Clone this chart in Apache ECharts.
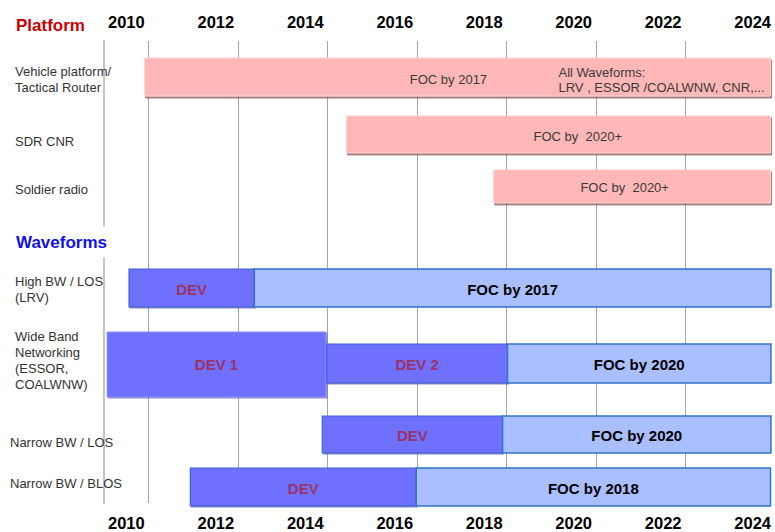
<!DOCTYPE html>
<html>
<head>
<meta charset="utf-8">
<script src="https://cdn.jsdelivr.net/npm/echarts@6/dist/echarts.min.js"></script>
<style>html,body{margin:0;padding:0;background:#fff;}#c{width:775px;height:532px;}</style>
</head>
<body>
<div id="c"></div>
<script>
// ---- data ----
const years = ['2010','2011','2012','2013','2014','2015','2016','2017','2018','2019','2020','2021','2022','2023','2024'];
const sections = ['Platform', 'Waveforms'];
const rowLabels = ['Vehicle platform/\nTactical Router', 'SDR CNR', 'Soldier radio', 'High BW / LOS\n(LRV)', 'Wide Band\nNetworking\n(ESSOR,\nCOALWNW)', 'Narrow BW / LOS', 'Narrow BW / BLOS'];
const barRow   = [0, 1, 2, 3, 3, 4, 4, 4, 5, 5, 6, 6];
const barStart = [2010.91, 2015.42, 2018.71, 2010.56, 2013.36, 2010.07, 2014.98, 2019.02, 2014.88, 2018.91, 2011.93, 2016.98];
const barEnd   = [2024.90, 2024.90, 2024.90, 2013.36, 2024.91, 2014.96, 2019.02, 2024.91, 2018.91, 2024.91, 2016.98, 2024.90];
const barKind  = ['plat', 'plat', 'plat', 'dev', 'foc', 'devBig', 'dev', 'foc', 'dev', 'foc', 'dev', 'foc'];
const barText  = ['', '', '', 'DEV', 'FOC by 2017', 'DEV 1', 'DEV 2', 'FOC by 2020', 'DEV', 'FOC by 2020', 'DEV', 'FOC by 2018'];
const noteRow  = [0, 0, 1, 2];
const noteYear = [2017.70, 2020.16, 2020.59, 2021.64];
const noteText = ['FOC by 2017', 'All Waveforms:\nLRV , ESSOR /COALWNW, CNR,...', 'FOC by  2020+', 'FOC by  2020+'];
const noteAlign = ['center', 'left', 'center', 'center'];

// ---- layout (pixel rows, y axis maps 1 unit = 1 px) ----
const layout = {
  sectionY: [25, 242],
  labelY: [79.5, 141, 189, 289.5, 360.5, 442, 483],
  labelX: [15, 15, 15, 15, 15, 10, 10],
  barY: [77, 134.4, 186.4, 288, 363.5, 434.5, 487],
  barH: [38, 37, 33, 38, 39, 37, 38],
  bigBarY: 364.5, bigBarH: 65,
  noteY: [79, 79.5, 136, 187]
};
const FONT = "'Liberation Sans', Arial, Helvetica, sans-serif";
const styles = {
  plat:   { fill: '#ffb7b7', stroke: '#ffd2d2', lineWidth: 1, shadowColor: 'rgba(140,80,80,0.75)', shadowOffsetX: 1, shadowOffsetY: 2, shadowBlur: 0 },
  dev:    { fill: '#7070ff', stroke: '#3d62cf', lineWidth: 1.2, shadowColor: 'rgba(60,60,150,0.6)', shadowOffsetX: 1, shadowOffsetY: 1, shadowBlur: 0 },
  devBig: { fill: '#7070ff', stroke: '#8a8aff', lineWidth: 1, shadowColor: 'rgba(60,60,150,0.6)', shadowOffsetX: 1, shadowOffsetY: 1, shadowBlur: 0 },
  foc:    { fill: '#aabfff', stroke: '#2f74d0', lineWidth: 1.5 }
};

const chart = echarts.init(document.getElementById('c'), null, { renderer: 'svg' });

const bars = barStart.map((s, i) => [s, barEnd[i], barRow[i]]);

chart.setOption({
  animation: false,
  backgroundColor: '#fff',
  grid: { left: 104, top: 41, width: 674, height: 462, containLabel: false },
  xAxis: [
    { type: 'value', min: 2010, max: 2025, interval: 1, position: 'bottom',
      axisLine: { show: false, onZero: false }, axisTick: { show: false }, axisLabel: { show: false },
      splitLine: { show: true, lineStyle: { color: ['rgba(0,0,0,0)', '#a4a4a4'], width: 1 } } },
    { type: 'category', data: years, position: 'top', boundaryGap: true,
      axisLine: { show: false }, axisTick: { show: false }, splitLine: { show: false },
      axisLabel: { interval: 1, color: '#000', fontWeight: 'bold', fontSize: 16.5, fontFamily: FONT, margin: 11 } },
    { type: 'category', data: years, position: 'bottom', boundaryGap: true,
      axisLine: { show: false }, axisTick: { show: false }, splitLine: { show: false },
      axisLabel: { interval: 1, color: '#000', fontWeight: 'bold', fontSize: 16.5, fontFamily: FONT, margin: 11 } }
  ],
  yAxis: [
    { type: 'value', min: 41, max: 503, inverse: true, position: 'left',
      axisLine: { show: true, onZero: false, lineStyle: { color: '#c4c4c4', width: 2 } },
      axisTick: { show: false }, axisLabel: { show: false }, splitLine: { show: false } }
  ],
  series: [
    {
      type: 'custom', clip: false, xAxisIndex: 0, yAxisIndex: 0, z: 3,
      data: bars,
      renderItem: function (params, api) {
        const i = params.dataIndex;
        const r = barRow[i];
        const kind = barKind[i];
        const cy = kind === 'devBig' ? layout.bigBarY : layout.barY[r];
        const hh = kind === 'devBig' ? layout.bigBarH : layout.barH[r];
        const p0 = api.coord([api.value(0), cy]);
        const p1 = api.coord([api.value(1), cy]);
        const h = api.size([0, hh])[1];
        const children = [{
          type: 'rect',
          shape: { x: p0[0], y: p0[1] - h / 2, width: p1[0] - p0[0], height: h },
          style: styles[kind]
        }];
        if (barText[i]) {
          const isDev = kind !== 'foc';
          children.push({
            type: 'text',
            style: {
              text: barText[i], x: (p0[0] + p1[0]) / 2, y: p0[1] + (kind === 'devBig' ? 0 : 1),
              align: 'center', verticalAlign: 'middle',
              fontFamily: FONT, fontSize: 15, fontWeight: 'bold',
              fill: isDev ? '#9a3366' : '#000'
            }
          });
        }
        return { type: 'group', children: children };
      }
    },
    {
      type: 'custom', clip: false, xAxisIndex: 0, yAxisIndex: 0, z: 4,
      data: noteYear.map((x, i) => [x, noteRow[i]]),
      renderItem: function (params, api) {
        const i = params.dataIndex;
        const p = api.coord([api.value(0), layout.noteY[i]]);
        return {
          type: 'text',
          style: {
            text: noteText[i], x: p[0], y: p[1], align: noteAlign[i], verticalAlign: 'middle',
            fontFamily: FONT, fontSize: 13, lineHeight: 15, fill: '#3a3a3a'
          }
        };
      }
    },
    {
      type: 'custom', clip: false, xAxisIndex: 0, yAxisIndex: 0, z: 5,
      data: rowLabels.map((t, i) => [2010, i]),
      renderItem: function (params, api) {
        const i = params.dataIndex;
        const p = api.coord([2010, layout.labelY[i]]);
        return {
          type: 'text',
          style: {
            text: rowLabels[i], x: layout.labelX[i], y: p[1], align: 'left', verticalAlign: 'middle',
            fontFamily: FONT, fontSize: 13, lineHeight: 16.3, fill: '#333'
          }
        };
      }
    },
    {
      type: 'custom', clip: false, xAxisIndex: 0, yAxisIndex: 0, z: 5,
      data: sections.map((t, i) => [2010, i]),
      renderItem: function (params, api) {
        const i = params.dataIndex;
        const p = api.coord([2010, layout.sectionY[i]]);
        return {
          type: 'text',
          style: {
            text: sections[i], x: 15, y: p[1], align: 'left', verticalAlign: 'middle',
            fontFamily: FONT, fontSize: 17, fontWeight: 'bold',
            fill: i === 0 ? '#cc0000' : '#1010ee',
            backgroundColor: '#fff', padding: [7, 2, 7, 1]
          }
        };
      }
    }
  ]
});
</script>
</body>
</html>
